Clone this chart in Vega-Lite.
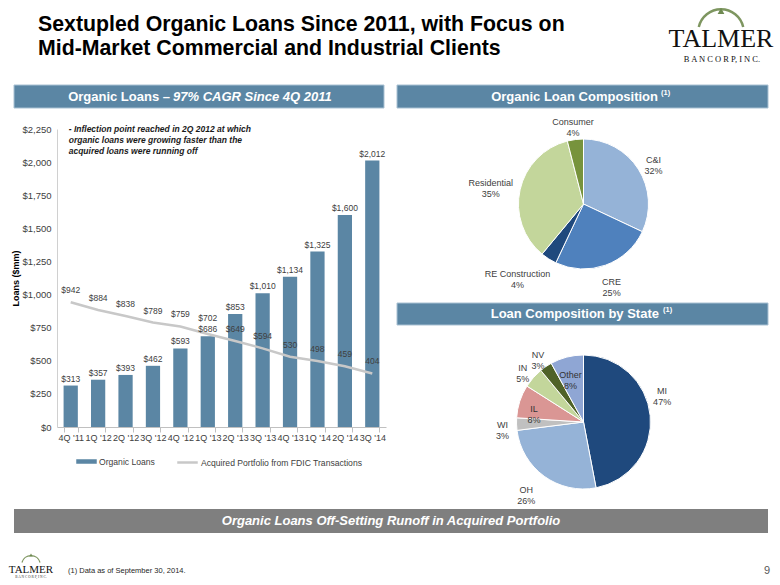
{
  "$schema": "https://vega.github.io/schema/vega-lite/v6.json",
  "padding": 0,
  "background": "#ffffff",
  "columns": 3,
  "spacing": 0,
  "bounds": "flush",
  "config": {"view": {"stroke": null}, "font": "Liberation Sans", "concat": {"spacing": 0}},
  "datasets": {
    "loans": [
      {"q": "4Q '11", "organic": 313, "acquired": 942, "acqLabel": "$942"},
      {"q": "1Q '12", "organic": 357, "acquired": 884, "acqLabel": "$884"},
      {"q": "2Q '12", "organic": 393, "acquired": 838, "acqLabel": "$838"},
      {"q": "3Q '12", "organic": 462, "acquired": 789, "acqLabel": "$789"},
      {"q": "4Q '12", "organic": 593, "acquired": 759, "acqLabel": "$759"},
      {"q": "1Q '13", "organic": 686, "acquired": 702, "acqLabel": "$702"},
      {"q": "2Q '13", "organic": 853, "acquired": 649, "acqLabel": "$649"},
      {"q": "3Q '13", "organic": 1010, "acquired": 594, "acqLabel": "$594"},
      {"q": "4Q '13", "organic": 1134, "acquired": 530, "acqLabel": "530"},
      {"q": "1Q '14", "organic": 1325, "acquired": 498, "acqLabel": "498"},
      {"q": "2Q '14", "organic": 1600, "acquired": 459, "acqLabel": "459"},
      {"q": "3Q '14", "organic": 2012, "acquired": 404, "acqLabel": "404"}
    ],
    "pie1": [
      {"i": 1, "cat": "C&I", "pct": 32, "lbl": "C&I|32%"},
      {"i": 2, "cat": "CRE", "pct": 25, "lbl": "CRE|25%"},
      {"i": 3, "cat": "RE Construction", "pct": 4, "lbl": "RE Construction|4%"},
      {"i": 4, "cat": "Residential", "pct": 35, "lbl": "Residential|35%"},
      {"i": 5, "cat": "Consumer", "pct": 4, "lbl": "Consumer|4%"}
    ],
    "pie2": [
      {"i": 1, "cat": "MI", "pct": 47, "lbl": "MI|47%"},
      {"i": 2, "cat": "OH", "pct": 26, "lbl": "OH|26%"},
      {"i": 3, "cat": "WI", "pct": 3, "lbl": "WI|3%"},
      {"i": 4, "cat": "IL", "pct": 8, "lbl": "IL|8%"},
      {"i": 5, "cat": "IN", "pct": 5, "lbl": "IN|5%"},
      {"i": 6, "cat": "NV", "pct": 3, "lbl": "NV|3%"},
      {"i": 7, "cat": "Other", "pct": 8, "lbl": "Other|8%"}
    ]
  },
  "concat": [
    {
      "width": 56, "height": 128,
      "data": {"values": [{}]},
      "layer": [
        {"mark": {"type": "text", "x": 37, "y": 24, "align": "left", "baseline": "middle", "fontSize": 21.3, "fontWeight": "bold", "lineHeight": 24, "color": "#000000", "text": ["Sextupled Organic Loans Since 2011, with Focus on", "Mid-Market Commercial and Industrial Clients"]}, "encoding": {}},
        {"mark": {"type": "arc", "x": 720, "y": 31, "radius": 24, "radius2": 21.5, "theta": -1.35, "theta2": 1.35, "color": "#7e9660"}, "encoding": {}},
        {"mark": {"type": "point", "shape": "triangle-up", "x": 720, "y": 10, "size": 45, "filled": true, "color": "#6f8a52", "opacity": 1}, "encoding": {}},
        {"mark": {"type": "text", "x": 720, "y": 38, "align": "center", "baseline": "middle", "font": "Liberation Serif", "fontSize": 26, "color": "#111111", "text": "TALMER"}, "encoding": {}},
        {"mark": {"type": "text", "x": 721, "y": 58, "align": "center", "baseline": "middle", "font": "Liberation Serif", "fontSize": 8.5, "color": "#111111", "text": "B A N C O R P,  I N C."}, "encoding": {}},
        {"mark": {"type": "rule", "x": 0, "x2": 780, "y": 70, "y2": 70, "strokeWidth": 3.5, "color": "#000000"}, "encoding": {}},
        {"mark": {"type": "rect", "x": 13, "x2": 383, "y": 84, "y2": 107, "fill": "#5b86a4", "stroke": "#a9c1d3", "strokeWidth": 1}, "encoding": {}},
        {"mark": {"type": "rect", "x": 396, "x2": 767, "y": 84, "y2": 107, "fill": "#5b86a4", "stroke": "#a9c1d3", "strokeWidth": 1}, "encoding": {}},
        {"mark": {"type": "text", "x": 169, "y": 96, "align": "right", "baseline": "middle", "fontSize": 13, "fontWeight": "bold", "color": "#ffffff", "text": "Organic Loans –"}, "encoding": {}},
        {"mark": {"type": "text", "x": 172, "y": 96, "align": "left", "baseline": "middle", "fontSize": 13, "fontWeight": "bold", "fontStyle": "italic", "color": "#ffffff", "text": "97% CAGR Since 4Q 2011"}, "encoding": {}},
        {"mark": {"type": "text", "x": 657, "y": 96, "align": "right", "baseline": "middle", "fontSize": 13, "fontWeight": "bold", "color": "#ffffff", "text": "Organic Loan Composition"}, "encoding": {}},
        {"mark": {"type": "text", "x": 660, "y": 92, "align": "left", "baseline": "middle", "fontSize": 7.5, "fontWeight": "bold", "color": "#ffffff", "text": "(1)"}, "encoding": {}}
      ]
    },
    {"width": 1, "height": 1, "data": {"values": [{}]}, "mark": {"type": "point", "size": 0, "opacity": 0}, "encoding": {}},
    {"width": 1, "height": 1, "data": {"values": [{}]}, "mark": {"type": "point", "size": 0, "opacity": 0}, "encoding": {}},
    {"width": 56, "height": 1, "data": {"values": [{}]}, "mark": {"type": "point", "size": 0, "opacity": 0}, "encoding": {}},
    {
      "width": 329, "height": 298,
      "data": {"name": "loans"},
      "encoding": {
        "x": {"field": "q", "type": "nominal", "sort": null, "title": null,
          "scale": {"paddingInner": 0.48, "paddingOuter": 0.24},
          "axis": {"labelAngle": 0, "labelFontSize": 9, "labelColor": "#404040", "domainColor": "#c0c0c0", "tickColor": "#c0c0c0", "tickBand": "extent", "tickSize": 5, "labelPadding": 1, "labelOverlap": false}}
      },
      "layer": [
        {"mark": {"type": "bar"}, "encoding": {
          "y": {"field": "organic", "type": "quantitative", "title": "Loans ($mm)", "scale": {"domain": [0, 2250], "nice": false},
            "axis": {"values": [0, 250, 500, 750, 1000, 1250, 1500, 1750, 2000, 2250], "labelExpr": "'$' + format(datum.value, ',')", "labelOverlap": false, "grid": false, "ticks": false, "domainColor": "#d0d0d0", "labelPadding": 6, "labelFontSize": 9.5, "labelColor": "#404040", "titleFontSize": 9, "titleFontWeight": "bold", "titleColor": "#000000", "titlePadding": 1}},
          "fill": {"datum": "Organic Loans", "type": "nominal", "scale": {"range": ["#5b86a4"]},
            "legend": {"orient": "none", "legendX": 75, "legendY": 450, "title": null, "padding": 0, "symbolType": "M-1,-0.22H1V0.22H-1Z", "symbolSize": 420, "symbolStrokeWidth": 0, "labelFontSize": 8.6, "labelColor": "#404040", "labelOffset": 2, "labelLimit": 300}}}},
        {"mark": {"type": "line", "strokeWidth": 2.5}, "encoding": {
          "y": {"field": "acquired", "type": "quantitative", "title": "Loans ($mm)",
            "axis": {"values": [0, 250, 500, 750, 1000, 1250, 1500, 1750, 2000, 2250], "labelExpr": "'$' + format(datum.value, ',')", "labelOverlap": false, "grid": false, "ticks": false, "domainColor": "#d0d0d0", "labelPadding": 6, "labelFontSize": 9.5, "labelColor": "#404040", "titleFontSize": 9, "titleFontWeight": "bold", "titleColor": "#000000", "titlePadding": 1}},
          "stroke": {"datum": "Acquired Portfolio from FDIC Transactions", "type": "nominal", "scale": {"range": ["#c8c8c8"]},
            "legend": {"orient": "none", "legendX": 175, "legendY": 450, "title": null, "padding": 0, "symbolType": "stroke", "symbolSize": 420, "symbolStrokeWidth": 2.5, "labelFontSize": 8.6, "labelColor": "#404040", "labelOffset": 2, "labelLimit": 300}}}},
        {"mark": {"type": "text", "dy": -7, "fontSize": 8.5, "color": "#404040"}, "encoding": {
          "y": {"field": "organic", "type": "quantitative", "title": "Loans ($mm)",
            "axis": {"values": [0, 250, 500, 750, 1000, 1250, 1500, 1750, 2000, 2250], "labelExpr": "'$' + format(datum.value, ',')", "labelOverlap": false, "grid": false, "ticks": false, "domainColor": "#d0d0d0", "labelPadding": 6, "labelFontSize": 9.5, "labelColor": "#404040", "titleFontSize": 9, "titleFontWeight": "bold", "titleColor": "#000000", "titlePadding": 1}},
          "text": {"field": "organic", "type": "quantitative", "format": "$,.0f"}}},
        {"mark": {"type": "text", "dy": -12, "fontSize": 8.5, "color": "#404040"}, "encoding": {
          "y": {"field": "acquired", "type": "quantitative", "title": "Loans ($mm)",
            "axis": {"values": [0, 250, 500, 750, 1000, 1250, 1500, 1750, 2000, 2250], "labelExpr": "'$' + format(datum.value, ',')", "labelOverlap": false, "grid": false, "ticks": false, "domainColor": "#d0d0d0", "labelPadding": 6, "labelFontSize": 9.5, "labelColor": "#404040", "titleFontSize": 9, "titleFontWeight": "bold", "titleColor": "#000000", "titlePadding": 1}},
          "text": {"condition": {"test": "datum.q != \"1Q '13\"", "field": "acqLabel", "type": "nominal"}, "value": ""}}},
        {"mark": {"type": "text", "dy": -16, "fontSize": 8.5, "color": "#404040"}, "encoding": {
          "y": {"field": "acquired", "type": "quantitative", "title": "Loans ($mm)",
            "axis": {"values": [0, 250, 500, 750, 1000, 1250, 1500, 1750, 2000, 2250], "labelExpr": "'$' + format(datum.value, ',')", "labelOverlap": false, "grid": false, "ticks": false, "domainColor": "#d0d0d0", "labelPadding": 6, "labelFontSize": 9.5, "labelColor": "#404040", "titleFontSize": 9, "titleFontWeight": "bold", "titleColor": "#000000", "titlePadding": 1}},
          "text": {"condition": {"test": "datum.q == \"1Q '13\"", "field": "acqLabel", "type": "nominal"}, "value": ""}}},
        {"data": {"values": [{}]}, "mark": {"type": "text", "align": "left", "baseline": "middle", "dx": -2, "fontSize": 8.5, "fontWeight": "bold", "fontStyle": "italic", "lineHeight": 11, "color": "#1a1a1a",
          "text": ["- Inflection point reached in 2Q 2012 at which", "\u00a0\u00a0organic loans were growing faster than the", "\u00a0\u00a0acquired loans were running off"]},
          "encoding": {"x": {"datum": "4Q '11", "type": "nominal"}, "y": {"datum": 2250, "type": "quantitative", "title": "Loans ($mm)",
            "axis": {"values": [0, 250, 500, 750, 1000, 1250, 1500, 1750, 2000, 2250], "labelExpr": "'$' + format(datum.value, ',')", "labelOverlap": false, "grid": false, "ticks": false, "domainColor": "#d0d0d0", "labelPadding": 6, "labelFontSize": 9.5, "labelColor": "#404040", "titleFontSize": 9, "titleFontWeight": "bold", "titleColor": "#000000", "titlePadding": 1}}}}
      ]
    },
    {
      "width": 395, "height": 376,
      "layer": [
        {"data": {"name": "pie1"}, "mark": {"type": "arc", "outerRadius": 65, "yOffset": -113, "stroke": "#ffffff", "strokeWidth": 1},
          "encoding": {"theta": {"field": "pct", "type": "quantitative", "stack": true}, "order": {"field": "i", "type": "quantitative"},
            "color": {"field": "cat", "type": "nominal", "legend": null, "scale": {"domain": ["C&I", "CRE", "RE Construction", "Residential", "Consumer", "MI", "OH", "WI", "IL", "IN", "NV", "Other"], "range": ["#95b3d7", "#4f81bd", "#1f497d", "#c3d69b", "#77933c", "#1f497d", "#95b3d7", "#c0c0c0", "#da9694", "#c3d69b", "#4f6228", "#8fa6d4"]}}}},
        {"data": {"name": "pie1"}, "mark": {"type": "text", "radius": 83, "yOffset": -113, "fontSize": 9, "lineBreak": "|", "lineHeight": 11, "color": "#404040"},
          "encoding": {"theta": {"field": "pct", "type": "quantitative", "stack": true}, "order": {"field": "i", "type": "quantitative"}, "detail": {"field": "cat", "type": "nominal"},
            "text": {"condition": {"test": "datum.cat == 'C&I' || datum.cat == 'CRE' || datum.cat == 'Consumer'", "field": "lbl", "type": "nominal"}, "value": ""}}},
        {"data": {"name": "pie1"}, "mark": {"type": "text", "radius": 95, "yOffset": -113, "fontSize": 9, "lineBreak": "|", "lineHeight": 11, "color": "#404040"},
          "encoding": {"theta": {"field": "pct", "type": "quantitative", "stack": true}, "order": {"field": "i", "type": "quantitative"}, "detail": {"field": "cat", "type": "nominal"},
            "text": {"condition": {"test": "datum.cat == 'Residential'", "field": "lbl", "type": "nominal"}, "value": ""}}},
        {"data": {"name": "pie1"}, "mark": {"type": "text", "radius": 95, "yOffset": -113, "dx": -15, "dy": -10, "fontSize": 9, "lineBreak": "|", "lineHeight": 11, "color": "#404040"},
          "encoding": {"theta": {"field": "pct", "type": "quantitative", "stack": true}, "order": {"field": "i", "type": "quantitative"}, "detail": {"field": "cat", "type": "nominal"},
            "text": {"condition": {"test": "datum.cat == 'RE Construction'", "field": "lbl", "type": "nominal"}, "value": ""}}},
        {"data": {"values": [{}]}, "mark": {"type": "rect", "x": 11, "x2": 382, "y": 174, "y2": 196, "fill": "#5b86a4", "stroke": "#a9c1d3", "strokeWidth": 1}, "encoding": {}},
        {"data": {"values": [{}]}, "mark": {"type": "text", "x": 273, "y": 185, "align": "right", "baseline": "middle", "fontSize": 13, "fontWeight": "bold", "color": "#ffffff", "text": "Loan Composition by State"}, "encoding": {}},
        {"data": {"values": [{}]}, "mark": {"type": "text", "x": 277, "y": 181, "align": "left", "baseline": "middle", "fontSize": 7.5, "fontWeight": "bold", "color": "#ffffff", "text": "(1)"}, "encoding": {}},
        {"data": {"name": "pie2"}, "mark": {"type": "arc", "outerRadius": 67, "yOffset": 105, "stroke": "#ffffff", "strokeWidth": 1},
          "encoding": {"theta": {"field": "pct", "type": "quantitative", "stack": true}, "order": {"field": "i", "type": "quantitative"},
            "color": {"field": "cat", "type": "nominal", "legend": null, "scale": {"domain": ["C&I", "CRE", "RE Construction", "Residential", "Consumer", "MI", "OH", "WI", "IL", "IN", "NV", "Other"], "range": ["#95b3d7", "#4f81bd", "#1f497d", "#c3d69b", "#77933c", "#1f497d", "#95b3d7", "#c0c0c0", "#da9694", "#c3d69b", "#4f6228", "#8fa6d4"]}}}},
        {"data": {"name": "pie2"}, "mark": {"type": "text", "radius": 81, "yOffset": 105, "fontSize": 9, "lineBreak": "|", "lineHeight": 11, "color": "#404040"},
          "encoding": {"theta": {"field": "pct", "type": "quantitative", "stack": true}, "order": {"field": "i", "type": "quantitative"}, "detail": {"field": "cat", "type": "nominal"},
            "text": {"condition": {"test": "datum.cat == 'WI' || datum.cat == 'IN' || datum.cat == 'NV'", "field": "lbl", "type": "nominal"}, "value": ""}}},
        {"data": {"name": "pie2"}, "mark": {"type": "text", "radius": 85, "yOffset": 105, "dx": -6, "dy": -23, "fontSize": 9, "lineBreak": "|", "lineHeight": 11, "color": "#404040"},
          "encoding": {"theta": {"field": "pct", "type": "quantitative", "stack": true}, "order": {"field": "i", "type": "quantitative"}, "detail": {"field": "cat", "type": "nominal"},
            "text": {"condition": {"test": "datum.cat == 'MI'", "field": "lbl", "type": "nominal"}, "value": ""}}},
        {"data": {"name": "pie2"}, "mark": {"type": "text", "radius": 84, "yOffset": 105, "dx": -8, "fontSize": 9, "lineBreak": "|", "lineHeight": 11, "color": "#404040"},
          "encoding": {"theta": {"field": "pct", "type": "quantitative", "stack": true}, "order": {"field": "i", "type": "quantitative"}, "detail": {"field": "cat", "type": "nominal"},
            "text": {"condition": {"test": "datum.cat == 'OH'", "field": "lbl", "type": "nominal"}, "value": ""}}},
        {"data": {"name": "pie2"}, "mark": {"type": "text", "radius": 52, "yOffset": 105, "dy": 3, "fontSize": 9, "lineBreak": "|", "lineHeight": 11, "color": "#333333"},
          "encoding": {"theta": {"field": "pct", "type": "quantitative", "stack": true}, "order": {"field": "i", "type": "quantitative"}, "detail": {"field": "cat", "type": "nominal"},
            "text": {"condition": {"test": "datum.cat == 'IL' || datum.cat == 'Other'", "field": "lbl", "type": "nominal"}, "value": ""}}}
      ]
    },
    {
      "width": 56, "height": 81,
      "data": {"values": [{}]},
      "layer": [
        {"mark": {"type": "rect", "x": 13, "x2": 767, "y": 4, "y2": 28, "fill": "#7f7f7f"}, "encoding": {}},
        {"mark": {"type": "text", "x": 390, "y": 16, "align": "center", "baseline": "middle", "fontSize": 13, "fontWeight": "bold", "fontStyle": "italic", "color": "#ffffff", "text": "Organic Loans Off-Setting Runoff in Acquired Portfolio"}, "encoding": {}},
        {"mark": {"type": "rule", "x": 0, "x2": 780, "y": 37, "y2": 37, "strokeWidth": 3.5, "color": "#000000"}, "encoding": {}},
        {"mark": {"type": "text", "x": 67, "y": 66, "align": "left", "baseline": "middle", "fontSize": 7.5, "color": "#262626", "text": "(1) Data as of September 30, 2014."}, "encoding": {}},
        {"mark": {"type": "rule", "x": 753, "x2": 753, "y": 52, "y2": 76, "strokeWidth": 1.5, "color": "#000000"}, "encoding": {}},
        {"mark": {"type": "text", "x": 766, "y": 66, "align": "center", "baseline": "middle", "fontSize": 11, "color": "#595959", "text": "9"}, "encoding": {}},
        {"mark": {"type": "arc", "x": 30, "y": 60, "radius": 10, "radius2": 8.8, "theta": -1.3, "theta2": 1.3, "color": "#7e9660"}, "encoding": {}},
        {"mark": {"type": "point", "shape": "triangle-up", "x": 30, "y": 50, "size": 12, "filled": true, "color": "#6f8a52", "opacity": 1}, "encoding": {}},
        {"mark": {"type": "text", "x": 30, "y": 65, "align": "center", "baseline": "middle", "font": "Liberation Serif", "fontSize": 11, "color": "#111111", "text": "TALMER"}, "encoding": {}},
        {"mark": {"type": "text", "x": 30, "y": 72, "align": "center", "baseline": "middle", "font": "Liberation Serif", "fontSize": 3.5, "color": "#333333", "text": "B A N C O R P,  I N C."}, "encoding": {}}
      ]
    }
  ]
}
